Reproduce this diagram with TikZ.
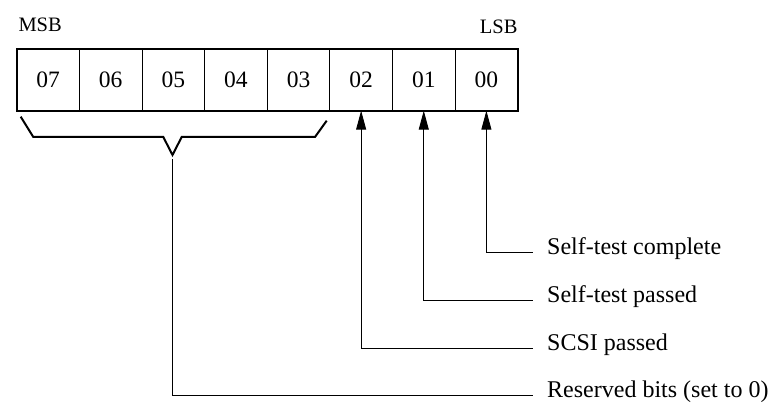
\documentclass[tikz,border=0pt]{standalone}
\usepackage{fontspec}
\setmainfont{Liberation Serif}
\usetikzlibrary{arrows.meta}
\begin{document}
\begin{tikzpicture}[x=1pt,y=-1pt,
  cell/.style={draw, line width=0.9pt, minimum width=62.625pt, minimum height=61.4pt,
    inner sep=0pt, outer sep=0pt, anchor=north west, font=\fontsize{23.5}{24}\selectfont},
  lbl/.style={anchor=base west, inner sep=0pt, font=\fontsize{24}{25}\selectfont},
  endlbl/.style={inner sep=0pt, font=\fontsize{20.5}{21}\selectfont},
  conn/.style={line width=0.9pt},
  arr/.style={conn, -{Triangle[length=19pt,width=10pt]}},
  bracestyle/.style={line width=2pt, line join=miter}]
\useasboundingbox (0,0) rectangle (775,403);
% cells
\node[cell] (b7) at (16.7,49.3) {07};
\node[cell] (b6) at (79.325,49.3) {06};
\node[cell] (b5) at (141.95,49.3) {05};
\node[cell] (b4) at (204.575,49.3) {04};
\node[cell] (b3) at (267.2,49.3) {03};
\node[cell] (b2) at (329.825,49.3) {02};
\node[cell] (b1) at (392.45,49.3) {01};
\node[cell] (b0) at (455.075,49.3) {00};
\draw[line width=1.9pt] (b7.north west) rectangle (b0.south east);
% MSB / LSB
\node[endlbl, anchor=base west] (msb) at (18.3,31.7) {MSB};
\node[endlbl, anchor=base east] (lsb) at (517.7,33.5) {LSB};
% brace
\coordinate (tip) at (172.5,155);
\coordinate (bstart) at (172.5,159.5);
\draw[bracestyle] (20.7,116.7) -- (33.3,137) -- (163.3,137) -- (tip) -- (181.7,137) -- (315,137) -- (326.7,120.7);
% label line ends
\coordinate (e0) at (532.7,252.5);
\coordinate (e1) at (532.7,300.5);
\coordinate (e2) at (532.7,348);
\coordinate (e3) at (532.7,395);
% labels
\node[lbl] (l0) at (547,254.5) {Self-test complete};
\node[lbl] (l1) at (547,302.5) {Self-test passed};
\node[lbl] (l2) at (547,350) {SCSI passed};
\node[lbl] (l3) at (547,397) {Reserved bits (set to 0)};
% connectors
\draw[arr] (e0) -| (b0.south);
\draw[arr] (e1) -| (b1.south);
\draw[arr] (e2) -| (b2.south);
\draw[conn] (e3) -| (bstart);
\end{tikzpicture}
\end{document}
